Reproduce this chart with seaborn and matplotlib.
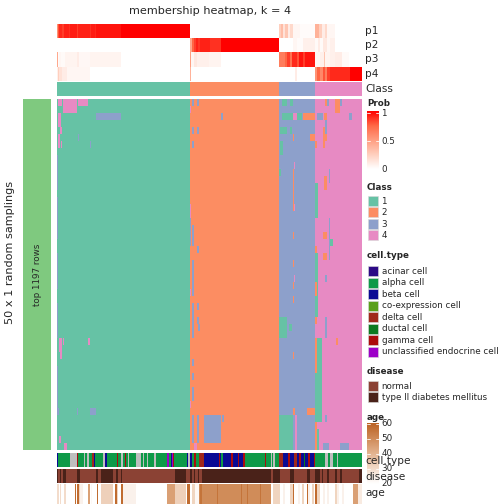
import numpy as np
import matplotlib
matplotlib.use("Agg")
import matplotlib.pyplot as plt
import seaborn as sns
from matplotlib.colors import ListedColormap, LinearSegmentedColormap
from matplotlib.patches import Rectangle

sns.set_theme(style="white")
plt.rcParams["font.family"] = ["DejaVu Sans"]

# ---------------- data ----------------
N_COLS = 305
N_ROWS = 50

# consensus class per column (start column, class)
class_segments = [(0, 1), (133, 2), (222, 3), (258, 4)]

# membership probabilities per column (start column, value)
p1_segments = [(0, 0.55), (1, 0.8), (2, 0.9), (5, 0.85), (7, 0.92), (12, 0.88), (13, 0.93), (20, 0.85),
               (21, 0.92), (33, 0.88), (34, 0.93), (38, 0.9), (39, 0.95), (64, 1.0), (133, 0.0),
               (222, 0.25), (224, 0.35), (226, 0.15), (228, 0.3), (231, 0.1), (233, 0.2), (236, 0.05),
               (243, 0.02), (258, 0.4), (262, 0.25), (265, 0.1), (268, 0.2), (270, 0.05), (278, 0.0)]
p2_segments = [(0, 0.0), (133, 0.45), (135, 0.75), (137, 0.85), (139, 0.92), (141, 0.87), (143, 0.92),
               (153, 0.88), (164, 1.0), (222, 0.0), (236, 0.05), (240, 0.02), (246, 0.08), (258, 0.03),
               (261, 0.1), (263, 0.03), (266, 0.12), (270, 0.05), (273, 0.08), (278, 0.0)]
p3_segments = [(0, 0.45), (1, 0.02), (2, 0.05), (4, 0.03), (8, 0.06), (20, 0.1), (22, 0.04), (33, 0.06),
               (64, 0.0), (133, 0.5), (134, 0.05), (137, 0.12), (140, 0.08), (152, 0.06), (164, 0.0),
               (222, 0.65), (228, 0.75), (230, 0.85), (233, 0.7), (235, 0.9), (240, 0.8), (242, 0.95),
               (246, 0.85), (248, 0.95), (258, 0.05), (263, 0.08), (267, 0.3), (268, 0.06), (273, 0.08),
               (278, 0.1), (285, 0.03), (292, 0.0)]
p4_segments = [(0, 0.08), (1, 0.25), (2, 0.15), (5, 0.1), (10, 0.05), (33, 0.0), (133, 0.4), (134, 0.0),
               (238, 0.1), (240, 0.0), (258, 0.55), (260, 0.75), (263, 0.6), (266, 0.8), (268, 0.65),
               (270, 0.85), (273, 0.9), (293, 1.0)]

# cells of the sampling matrix whose class differs from the consensus class
# (row start, row end, col start, col end, class)
main_deviations = [
    # class-1 block
    (0, 1, 1, 5, 4), (0, 2, 6, 20, 4), (0, 1, 21, 31, 4), (2, 3, 39, 64, 3), (2, 4, 1, 4, 4),
    (4, 5, 3, 5, 4), (5, 7, 1, 3, 4), (6, 7, 4, 5, 4), (5, 6, 21, 22, 3), (6, 7, 33, 34, 3),
    (8, 13, 0, 1, 3), (14, 20, 0, 1, 3), (22, 27, 0, 1, 3), (29, 34, 0, 1, 3), (38, 44, 0, 1, 3),
    (34, 36, 2, 5, 4), (34, 35, 6, 7, 4), (34, 35, 31, 33, 4), (36, 37, 3, 5, 4), (44, 45, 0, 2, 3),
    (44, 45, 20, 21, 3), (44, 45, 33, 39, 3), (48, 49, 2, 4, 4), (49, 50, 7, 10, 4),
    # class-2 block
    (1, 2, 133, 134, 4), (15, 17, 133, 134, 4), (27, 28, 133, 134, 4), (43, 44, 133, 134, 4),
    (17, 21, 133, 134, 3), (0, 1, 135, 137, 3), (4, 5, 135, 137, 3), (6, 7, 135, 137, 3),
    (18, 21, 135, 137, 3), (23, 28, 135, 137, 3), (29, 34, 135, 137, 3), (37, 38, 135, 137, 3),
    (39, 40, 135, 137, 3), (41, 43, 135, 137, 3), (45, 49, 135, 137, 3),
    (0, 1, 140, 142, 3), (4, 5, 140, 142, 3), (21, 22, 140, 142, 3), (29, 30, 140, 142, 3),
    (31, 32, 140, 142, 3), (32, 33, 141, 143, 3), (45, 49, 140, 142, 3),
    (45, 49, 147, 164, 3), (45, 46, 165, 167, 3), (2, 3, 164, 166, 3), (49, 50, 137, 140, 4),
    # class-3 block
    (0, 1, 225, 230, 1), (0, 1, 233, 236, 1), (2, 3, 225, 236, 1), (2, 3, 236, 240, 4),
    (2, 3, 240, 245, 1), (2, 3, 246, 258, 2), (4, 5, 223, 230, 1), (4, 5, 233, 235, 1),
    (5, 6, 253, 258, 2), (6, 8, 223, 226, 1), (10, 11, 222, 224, 1), (31, 34, 222, 230, 1),
    (32, 33, 232, 235, 1), (44, 45, 250, 258, 2), (44, 45, 236, 238, 2), (45, 50, 222, 236, 1),
    (45, 50, 238, 240, 4), (5, 6, 236, 237, 2), (10, 16, 236, 237, 2), (19, 20, 236, 237, 2),
    (23, 24, 236, 237, 2), (26, 27, 236, 237, 2), (28, 29, 236, 237, 2), (36, 37, 236, 237, 2),
    (9, 10, 237, 238, 4), (15, 16, 237, 238, 4), (25, 26, 237, 238, 4),
    # class-4 block
    (12, 17, 258, 261, 1), (22, 31, 258, 261, 1), (34, 46, 258, 265, 1), (47, 50, 258, 262, 1),
    (20, 21, 272, 276, 1), (6, 7, 258, 260, 2), (21, 22, 258, 260, 2), (26, 28, 258, 260, 2),
    (31, 32, 258, 260, 2), (34, 39, 258, 260, 2), (46, 50, 258, 260, 2),
    (0, 1, 268, 270, 2), (0, 2, 278, 283, 2), (2, 3, 267, 270, 2), (4, 7, 266, 268, 2),
    (5, 6, 266, 270, 2), (11, 13, 267, 270, 2), (19, 20, 266, 270, 2), (22, 23, 266, 270, 2),
    (34, 35, 279, 281, 2), (0, 1, 270, 272, 3), (0, 1, 283, 285, 3), (2, 3, 260, 266, 3),
    (2, 3, 292, 295, 3), (3, 5, 268, 270, 3), (25, 26, 268, 270, 3), (31, 34, 268, 270, 3),
    (45, 46, 268, 270, 3), (49, 50, 266, 272, 3), (49, 50, 283, 292, 3), (17, 23, 272, 273, 3),
    (10, 12, 272, 273, 3),
]

cell_type_names = ["acinar cell", "alpha cell", "beta cell", "co-expression cell", "delta cell",
                   "ductal cell", "gamma cell", "unclassified endocrine cell"]
# code 0 = NA, 1..8 = cell_type_names
cell_type_segments = [(0, 3), (1, 2), (13, 0), (20, 7), (21, 2), (27, 0), (28, 2), (30, 0), (32, 2), (35, 5),
                      (37, 3), (38, 2), (46, 0), (48, 3), (50, 2), (60, 7), (61, 2), (64, 0), (66, 2), (68, 7),
                      (69, 2), (71, 0), (72, 2), (79, 0), (84, 2), (86, 0), (87, 2), (90, 0), (91, 2), (97, 0),
                      (99, 2), (110, 8), (112, 2), (114, 3), (115, 8), (116, 7), (117, 2), (130, 3), (131, 0),
                      (133, 3), (135, 2), (137, 7), (139, 2), (142, 5), (147, 3), (162, 7), (163, 3), (164, 2),
                      (166, 3), (174, 7), (176, 3), (181, 7), (182, 3), (186, 7), (188, 2), (208, 7), (209, 2),
                      (214, 0), (215, 2), (216, 0), (218, 2), (222, 5), (226, 3), (231, 7), (233, 3), (237, 5),
                      (240, 3), (242, 7), (244, 3), (247, 6), (248, 3), (251, 7), (253, 3), (257, 7), (258, 2),
                      (268, 0), (271, 2), (273, 0), (276, 2), (280, 0), (281, 2)]

disease_names = ["normal", "type II diabetes mellitus"]
disease_segments = [(0, 1), (1, 0), (3, 1), (4, 0), (6, 1), (9, 0), (20, 1), (23, 0), (39, 1), (41, 0), (44, 1),
                    (56, 0), (59, 1), (61, 0), (64, 1), (65, 0), (118, 1), (129, 0), (133, 1), (135, 0),
                    (137, 1), (138, 0), (141, 1), (142, 0), (145, 1), (214, 0), (216, 1), (223, 0), (233, 1),
                    (237, 0), (250, 1), (253, 0), (258, 1), (263, 0), (265, 1), (266, 0), (270, 1), (272, 0),
                    (278, 1), (280, 0), (283, 1), (285, 0), (302, 1)]

age_segments = [(0, 30), (2, 20), (3, 30), (4, 20), (7, 30), (9, 20), (18, 58), (19, 20), (20, 58), (22, 32),
                (23, 24), (26, 20), (31, 45), (33, 20), (34, 22), (35, 20), (40, 58), (41, 20), (44, 33),
                (56, 20), (58, 58), (60, 32), (61, 20), (64, 58), (66, 24), (79, 20), (110, 45), (118, 33),
                (129, 20), (130, 58), (133, 20), (135, 32), (138, 22), (142, 50), (143, 56), (145, 50),
                (160, 56), (161, 50), (184, 56), (185, 50), (190, 56), (191, 50), (203, 56), (204, 50),
                (214, 20), (216, 32), (223, 20), (226, 24), (228, 20), (233, 32), (236, 58), (237, 20),
                (241, 24), (243, 20), (245, 32), (247, 20), (250, 58), (251, 24), (253, 20), (255, 32),
                (257, 20), (258, 58), (260, 32), (263, 20), (266, 24), (268, 20), (270, 24), (272, 20),
                (278, 32), (280, 24), (282, 20), (285, 24), (287, 20), (296, 45), (301, 26)]

prob_ticks = [0, 0.5, 1]
age_ticks = [20, 30, 40, 50, 60]


def expand(segs, n=N_COLS):
    out = np.empty(n)
    for i, (start, val) in enumerate(segs):
        end = segs[i + 1][0] if i + 1 < len(segs) else n
        out[start:end] = val
    return out


class_col = expand(class_segments)
prob = np.vstack([expand(p1_segments), expand(p2_segments), expand(p3_segments), expand(p4_segments)])
main = np.tile(class_col, (N_ROWS, 1))
for r0, r1, c0, c1, k in main_deviations:
    main[r0:r1, c0:c1] = k
cell_type = expand(cell_type_segments)
disease = expand(disease_segments)
age = expand(age_segments)

# ---------------- styles ----------------
class_colors = ["#66C2A5", "#FC8D62", "#8DA0CB", "#E78AC3"]
cell_colors = ["#BEBEBE", "#2C0A86", "#0E9A48", "#0A0A94", "#5AA01A", "#A0281A", "#0C7A20", "#AA0C0C", "#9C00C8"]
disease_colors = ["#8B4234", "#4A2219"]
prob_cmap = LinearSegmentedColormap.from_list("prob", ["#FFFFFF", "#FFCFBE", "#FF9E81", "#FF6846", "#FF0000"])
age_cmap = LinearSegmentedColormap.from_list("age", ["#FFFFFF", "#F3DCCB", "#E4B592", "#D08C5A", "#BC6426"])

W = H = 504
fig = plt.figure(figsize=(7, 7), dpi=72)

LEG_FS = 8.8
LAB_FS = 10.5


def add_px(x0, y0, x1, y1):
    return fig.add_axes([x0 / W, 1 - y1 / H, (x1 - x0) / W, (y1 - y0) / H])


def strip(ax):
    ax.set_xticks([]); ax.set_yticks([])
    ax.set_xlabel(""); ax.set_ylabel("")
    for s in ax.spines.values():
        s.set_visible(False)


X0, X1 = 57, 362

ax = add_px(X0, 24, X1, 81)
sns.heatmap(prob, cmap=prob_cmap, vmin=0, vmax=1, cbar=False, ax=ax, xticklabels=False, yticklabels=False)
strip(ax)

ax = add_px(X0, 82, X1, 96)
sns.heatmap(class_col[None, :], cmap=ListedColormap(class_colors), vmin=0.5, vmax=4.5, cbar=False, ax=ax,
            xticklabels=False, yticklabels=False)
strip(ax)

ax = add_px(X0, 99, X1, 450)
sns.heatmap(main, cmap=ListedColormap(class_colors), vmin=0.5, vmax=4.5, cbar=False, ax=ax,
            xticklabels=False, yticklabels=False)
strip(ax)

ax = add_px(23, 99, 51, 450)
ax.set_facecolor("#7FC97F")
strip(ax)
ax.text(0.5, (450 - 275) / 351, "top 1197 rows", rotation=90, ha="center", va="center", fontsize=8.8,
        transform=ax.transAxes)

ax = add_px(X0, 453, X1, 467)
sns.heatmap(cell_type[None, :], cmap=ListedColormap(cell_colors), vmin=-0.5, vmax=8.5, cbar=False, ax=ax,
            xticklabels=False, yticklabels=False)
strip(ax)

ax = add_px(X0, 469, X1, 483)
sns.heatmap(disease[None, :], cmap=ListedColormap(disease_colors), vmin=-0.5, vmax=1.5, cbar=False, ax=ax,
            xticklabels=False, yticklabels=False)
strip(ax)

ax = add_px(X0, 484, X1, 504)
sns.heatmap(age[None, :], cmap=age_cmap, vmin=20, vmax=60, cbar=False, ax=ax,
            xticklabels=False, yticklabels=False)
strip(ax)

# ---------- texts ----------
fig.text(210 / W, 1 - 11 / H, "membership heatmap, k = 4", ha="center", va="center", fontsize=11.2)
fig.text(10 / W, 1 - 252 / H, "50 x 1 random samplings", rotation=90, ha="center", va="center", fontsize=11.3)
for i, lab in enumerate(["p1", "p2", "p3", "p4"]):
    fig.text(365 / W, 1 - (31 + 14.25 * i) / H, lab, ha="left", va="center", fontsize=LAB_FS)
fig.text(365 / W, 1 - 89 / H, "Class", ha="left", va="center", fontsize=LAB_FS)

# ---------- legends ----------
leg = fig.add_axes([0, 0, 1, 1], facecolor="none")
leg.set_xlim(0, W); leg.set_ylim(H, 0); leg.axis("off")


def title(y, txt):
    leg.text(367, y, txt, ha="left", va="center", fontsize=LEG_FS, fontweight="bold")


def box_item(y_top, color, label):
    leg.add_patch(Rectangle((367.5, y_top), 10.5, 10, facecolor=color, edgecolor="#D8D8D8", lw=0.6))
    leg.text(381.5, y_top + 5.3, label, ha="left", va="center", fontsize=LEG_FS)


title(103, "Prob")
title(187, "Class")
for i, c in enumerate(class_colors):
    box_item(196 + 11.4 * i, c, str(i + 1))
title(256, "cell.type")
for i, name in enumerate(cell_type_names):
    box_item(266 + 11.5 * i, cell_colors[i + 1], name)
title(371, "disease")
for i, name in enumerate(disease_names):
    box_item(381 + 11 * i, disease_colors[i], name)
title(418, "age")

# colour bars
cax = add_px(367, 111, 379, 169)
grad = np.linspace(0, 1, 200)[:, None]
cax.imshow(grad, aspect="auto", cmap=prob_cmap, origin="lower", extent=(0, 1, 0, 1.03))
cax.set_xlim(0, 1); cax.set_ylim(0, 1.03)
for t in prob_ticks:
    cax.plot([0, 0.22], [t, t], color="white", lw=0.8)
    cax.plot([0.78, 1], [t, t], color="white", lw=0.8)
strip(cax)
for t in prob_ticks:
    leg.text(381.5, 111 + (1.03 - t) / 1.03 * 58 + 1, f"{t:g}", ha="left", va="center", fontsize=LEG_FS)

aax = add_px(367, 423, 379, 484)
grad = np.linspace(20, 60.5, 200)[:, None]
aax.imshow(grad, aspect="auto", cmap=age_cmap, vmin=20, vmax=60, origin="lower", extent=(0, 1, 20, 60.5))
aax.set_xlim(0, 1); aax.set_ylim(20, 60.5)
for t in age_ticks:
    aax.plot([0, 0.22], [t, t], color="white", lw=0.8)
    aax.plot([0.78, 1], [t, t], color="white", lw=0.8)
strip(aax)
for t in age_ticks:
    leg.text(381.5, 423 + (60.5 - t) / 40.5 * 61, str(t), ha="left", va="center", fontsize=LEG_FS)

# annotation names (drawn over the age legend, as in the reference)
fig.text(365 / W, 1 - 461 / H, "cell.type", ha="left", va="center", fontsize=LAB_FS)
fig.text(365 / W, 1 - 477 / H, "disease", ha="left", va="center", fontsize=LAB_FS)
fig.text(365 / W, 1 - 493 / H, "age", ha="left", va="center", fontsize=LAB_FS)

fig.savefig("out.png", dpi=72)
